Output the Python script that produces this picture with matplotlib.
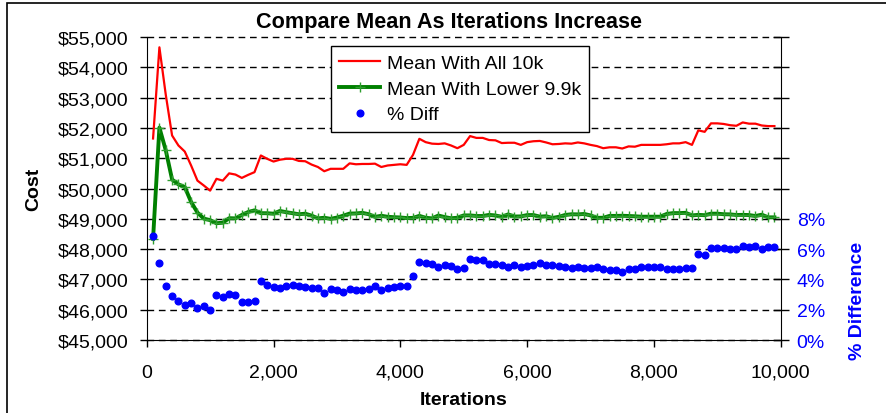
import matplotlib
matplotlib.use("Agg")
import matplotlib.pyplot as plt
from matplotlib.lines import Line2D
from matplotlib.patches import Rectangle
from matplotlib.ticker import FuncFormatter, MultipleLocator

plt.rcParams['font.family'] = ['Liberation Sans', 'DejaVu Sans']

# iteration checkpoints (every 100 runs)
iterations = list(range(100, 10000, 100))

mean_all = [
    51650, 54660, 53100, 51750, 51420, 51220, 50760, 50260, 50100, 49930,
    50320, 50260, 50500, 50460, 50350, 50450, 50540, 51090, 50980, 50890,
    50950, 50980, 50980, 50910, 50900, 50790, 50710, 50570, 50650, 50650,
    50650, 50830, 50800, 50810, 50810, 50820, 50710, 50760, 50780, 50800,
    50780, 51110, 51640, 51530, 51480, 51470, 51490, 51420, 51330, 51440,
    51730, 51670, 51670, 51600, 51590, 51500, 51510, 51510, 51440, 51530,
    51560, 51570, 51520, 51460, 51470, 51490, 51480, 51520, 51490, 51440,
    51400, 51330, 51360, 51360, 51320, 51390, 51380, 51440, 51440, 51440,
    51440, 51460, 51490, 51490, 51530, 51440, 51920, 51870, 52150, 52150,
    52130, 52090, 52070, 52180, 52140, 52140, 52080, 52060, 52060,
]

mean_lower = [
    48340, 52010, 51265, 50297, 50137, 50049, 49556, 49207, 49007, 48956,
    48854, 48872, 49020, 49014, 49127, 49224, 49279, 49186, 49184, 49169,
    49260, 49218, 49185, 49150, 49169, 49106, 49014, 49035, 48999, 49041,
    49103, 49173, 49177, 49197, 49153, 49064, 49100, 49067, 49053, 49044,
    49025, 49031, 49097, 49034, 49014, 49108, 49057, 49018, 49035, 49112,
    49112, 49093, 49093, 49129, 49110, 49066, 49146, 49076, 49079, 49123,
    49124, 49072, 49085, 49028, 49066, 49127, 49150, 49146, 49160, 49112,
    49032, 49035, 49096, 49096, 49101, 49093, 49083, 49070, 49070, 49070,
    49070, 49159, 49188, 49188, 49198, 49112, 49130, 49119, 49170, 49170,
    49151, 49146, 49127, 49130, 49124, 49092, 49137, 49048, 49048,
]

pct_diff = [
    6.84, 5.09, 3.58, 2.89, 2.56, 2.34, 2.43, 2.14, 2.23, 1.99,
    3.00, 2.84, 3.02, 2.95, 2.49, 2.49, 2.56, 3.87, 3.65, 3.50,
    3.43, 3.58, 3.65, 3.58, 3.52, 3.43, 3.46, 3.13, 3.37, 3.28,
    3.15, 3.37, 3.30, 3.28, 3.37, 3.58, 3.28, 3.45, 3.52, 3.58,
    3.58, 4.24, 5.18, 5.09, 5.03, 4.81, 4.96, 4.90, 4.68, 4.74,
    5.33, 5.25, 5.25, 5.03, 5.05, 4.96, 4.81, 4.96, 4.81, 4.90,
    4.96, 5.09, 4.96, 4.96, 4.90, 4.81, 4.74, 4.83, 4.74, 4.74,
    4.83, 4.68, 4.61, 4.61, 4.52, 4.68, 4.68, 4.83, 4.83, 4.83,
    4.83, 4.68, 4.68, 4.68, 4.74, 4.74, 5.68, 5.60, 6.06, 6.06,
    6.06, 5.99, 5.99, 6.21, 6.14, 6.21, 5.99, 6.14, 6.14,
]
pct_frac = [p / 100 for p in pct_diff]

RED = '#ff0000'
GREEN = '#008000'
GREEN_TICK = '#2e9e2e'
BLUE = '#0000ff'
FS = 14

fig = plt.figure(figsize=(8.86, 4.14), dpi=100)
ax = fig.add_axes([0.1656, 0.1763, 0.8812 - 0.1656, 0.9082 - 0.1763])
ax2 = ax.twinx()

ax.plot(iterations, mean_all, color=RED, lw=1.6, zorder=3)
ax.plot(iterations, mean_lower, color=GREEN, lw=2.8, marker='+', ms=7,
        mew=1.0, mec=GREEN_TICK, zorder=2)
ax2.plot(iterations, pct_frac, ls='none', marker='o', ms=4.8, color=BLUE,
         zorder=4)

# left axis: cost
ax.set_xlim(0, 10000)
ax.set_ylim(45000, 55000)
ax.yaxis.set_major_locator(MultipleLocator(1000))
ax.xaxis.set_major_locator(MultipleLocator(2000))
ax.yaxis.set_major_formatter(FuncFormatter(lambda v, p: f"${v:,.0f}"))
ax.xaxis.set_major_formatter(FuncFormatter(lambda v, p: f"{v:,.0f}"))
ax.tick_params(axis='y', direction='out', length=5, width=1, labelsize=FS, pad=8)
ax.tick_params(axis='x', direction='out', length=5, width=1, labelsize=FS, pad=12)
ax.yaxis.grid(True, color='black', lw=1, linestyle=(0, (4.8, 3.4)))
for gl in ax.get_ygridlines():
    gl.set_clip_on(False)
ax.spines['top'].set_visible(False)
ax.spines['right'].set_visible(False)
ax.set_ylabel('Cost', fontsize=FS, fontweight='bold')
ax.yaxis.set_label_coords(-0.165, 0.5)
ax.set_xlabel('Iterations', fontsize=FS, fontweight='bold')
ax.xaxis.set_label_coords(0.5, -0.168)

# right axis: percent difference
ax2.set_ylim(0, 0.20)
ax2.yaxis.set_major_locator(MultipleLocator(0.02))
ax2.yaxis.set_major_formatter(
    FuncFormatter(lambda v, p: f"{v * 100:.0f}%" if v <= 0.081 else ""))
ax2.tick_params(axis='y', direction='inout', length=11, width=1,
                labelsize=FS, labelcolor=BLUE, pad=6)
for side in ('top', 'left', 'bottom'):
    ax2.spines[side].set_visible(False)
ax2.set_ylabel('% Difference', fontsize=FS, fontweight='bold', color=BLUE)
ax2.yaxis.set_label_coords(1.108, 0.132)

ax.set_title('Compare Mean As Iterations Increase', fontsize=15.6,
             fontweight='bold', x=0.477, pad=7)

handles = [
    Line2D([], [], color=RED, lw=1.6),
    Line2D([], [], color=GREEN, lw=2.8, marker='+', ms=7, mew=1.0,
           mec=GREEN_TICK),
    Line2D([], [], ls='none', marker='o', ms=4.8, color=BLUE),
]
labels = ['Mean With All 10k', 'Mean With Lower 9.9k', '% Diff']
leg = ax2.legend(handles, labels, loc='upper left',
                 bbox_to_anchor=(331 / 886, 1 - 47 / 414),
                 bbox_transform=fig.transFigure, fontsize=FS,
                 frameon=True, fancybox=False, framealpha=1,
                 edgecolor='black', borderpad=0.42, handlelength=2.1,
                 handletextpad=0.35, labelspacing=0.42, borderaxespad=0)
leg.get_frame().set_linewidth(1)
leg.set_zorder(10)

# chart area border
fig.patches.append(Rectangle((7 / 886, -0.05), 1.0, 1.05 - 4 / 414,
                             transform=fig.transFigure, fill=False,
                             edgecolor='black', lw=1.2))

fig.savefig('out.png', dpi=100)
